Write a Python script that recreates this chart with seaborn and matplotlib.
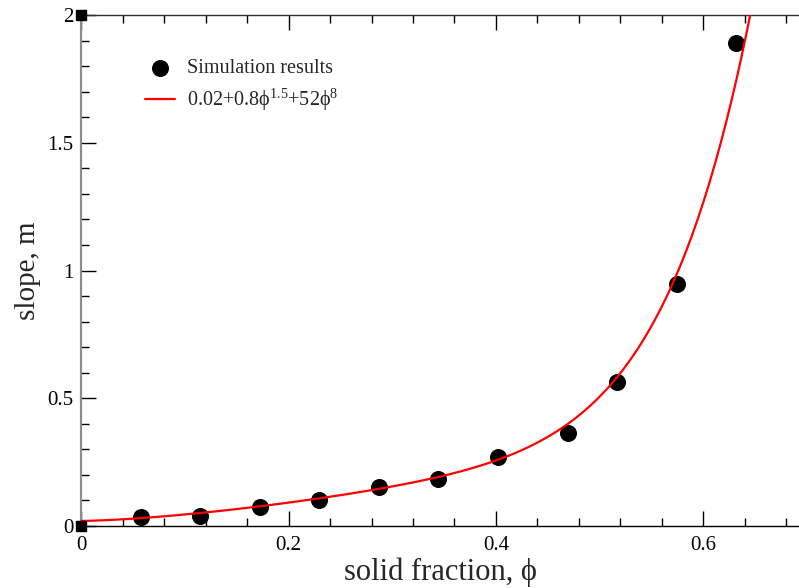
import numpy as np
import pandas as pd
import matplotlib
matplotlib.use("Agg")
import matplotlib.pyplot as plt
import seaborn as sns

# Simulation results
phi_sim = [0.0571, 0.1144, 0.1723, 0.2295, 0.2869, 0.3444, 0.4023, 0.4699, 0.5172, 0.5745, 0.6318]
slope_sim = [0.036, 0.040, 0.0755, 0.102, 0.154, 0.184, 0.271, 0.363, 0.564, 0.947, 1.892]

# Fit coefficients as written in the legend: a + b*phi^p + c*phi^q
fit_a, fit_b, fit_p, fit_c, fit_q = 0.02, 0.8, 1.5, 52.0, 8.0

x_ticks = [0, 0.2, 0.4, 0.6]
x_tick_labels = ["0", "0.2", "0.4", "0.6"]
y_ticks = [0, 0.5, 1, 1.5, 2]
y_tick_labels = ["0", "0.5", "1", "1.5", "2"]
corner_x = [0, 0]
corner_y = [0, 2]

sns.set_style("ticks")
plt.rcParams['font.family'] = ['Liberation Serif', 'DejaVu Serif']
plt.rcParams['mathtext.fontset'] = 'custom'
plt.rcParams['mathtext.rm'] = 'Liberation Serif'
plt.rcParams['mathtext.it'] = 'Liberation Serif'

fig = plt.figure(figsize=(7.99, 5.88), dpi=100)
ax = fig.add_axes([0.102, 0.1054, 0.898, 0.8691])

phi_fit = np.linspace(0, 0.6925, 400)
slope_fit = fit_a + fit_b * phi_fit**fit_p + fit_c * phi_fit**fit_q
df_fit = pd.DataFrame({"phi": phi_fit, "m": slope_fit})
df_sim = pd.DataFrame({"phi": phi_sim, "m": slope_sim})

sns.scatterplot(data=df_sim, x="phi", y="m", ax=ax, color="black", s=150,
                edgecolor="black", linewidth=0, label="Simulation results", zorder=3)
sns.lineplot(data=df_fit, x="phi", y="m", ax=ax, color="red", linewidth=1.6,
             label="0.02+0.8ϕ$^{1.5}$+52ϕ$^{8}$", zorder=4)
ax.plot(corner_x, corner_y, linestyle="none", marker="s", color="black",
        markersize=6.5, clip_on=False, zorder=5)

ax.set_xlim(0, 0.6925)
ax.set_ylim(0, 2)
ax.set_xticks(x_ticks)
ax.set_xticklabels(x_tick_labels)
ax.set_yticks(y_ticks)
ax.set_yticklabels(y_tick_labels)
ax.set_xticks(np.arange(0, 0.69, 0.04), minor=True)
ax.set_yticks(np.arange(0, 2.01, 0.1), minor=True)

ax.tick_params(which="major", direction="in", length=11, width=1.0, colors="black",
               labelsize=15, top=True, right=False)
ax.tick_params(axis="x", which="major", pad=7)
ax.tick_params(axis="y", which="major", pad=6)
ax.tick_params(which="minor", direction="in", length=6, width=1.0, colors="black",
               top=True, right=False)

ax.spines["right"].set_visible(False)
ax.spines["left"].set_color("#8c8c8c")
ax.spines["left"].set_linewidth(1.6)
ax.spines["bottom"].set_color("black")
ax.spines["top"].set_color("#333333")
for s in ["bottom", "top"]:
    ax.spines[s].set_linewidth(1.0)

ax.set_xlabel("solid fraction, ϕ", fontsize=22, labelpad=2)
ax.set_ylabel("slope, m", fontsize=21, labelpad=4)

leg = ax.legend(loc="upper left", bbox_to_anchor=(0.077, 0.93), frameon=False,
                fontsize=14.5, handlelength=1.5, handletextpad=0.6, labelspacing=0.45,
                borderaxespad=0)

fig.savefig("out.png", dpi=100)
